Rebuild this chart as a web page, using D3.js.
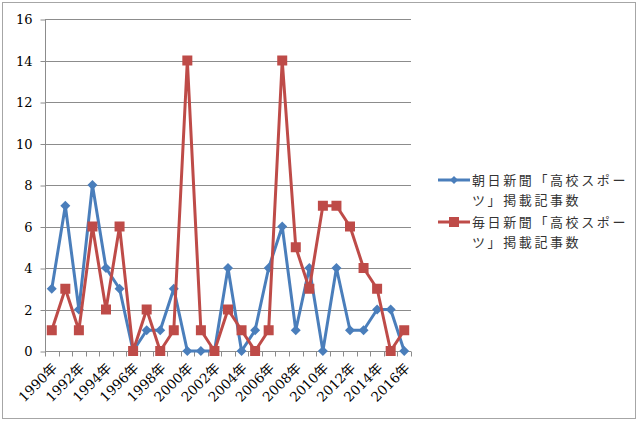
<!DOCTYPE html>
<html>
<head>
<meta charset="utf-8">
<script src="https://cdn.jsdelivr.net/npm/d3@7"></script>
<style>
  body { margin: 0; background: #fff; }
  svg { display: block; }
</style>
</head>
<body>
<div id="chart"></div>
<script>
// Years on the category axis
const years = d3.range(1990, 2017).map(y => y + "年");
// 朝日新聞 counts
const asahiValues = [3, 7, 2, 8, 4, 3, 0, 1, 1, 3, 0, 0, 0, 4, 0, 1, 4, 6, 1, 4, 0, 4, 1, 1, 2, 2, 0];
// 毎日新聞 counts
const mainichiValues = [1, 3, 1, 6, 2, 6, 0, 2, 0, 1, 14, 1, 0, 2, 1, 0, 1, 14, 5, 3, 7, 7, 6, 4, 3, 0, 1];
const yTicks = [0, 2, 4, 6, 8, 10, 12, 14, 16];
const seriesNames = ["朝日新聞「高校スポーツ」掲載記事数", "毎日新聞「高校スポーツ」掲載記事数"];

const W = 638, H = 421;
const plot = { left: 45, right: 411, top: 19, bottom: 351 };
const font = "'DejaVu Serif', 'Noto Sans CJK JP', serif";
const cjkFont = "'Noto Sans CJK JP', sans-serif";

const svg = d3.select("#chart").append("svg")
  .attr("width", W).attr("height", H);

// outer frame
svg.append("rect")
  .attr("x", 2.5).attr("y", 2.5)
  .attr("width", W - 5).attr("height", H - 5)
  .attr("fill", "#fff").attr("stroke", "#a6a6a6").attr("stroke-width", 1);

const x = d3.scaleBand().domain(years).range([plot.left, plot.right]);
const y = d3.scaleLinear().domain([0, 16]).range([plot.bottom, plot.top]);

// gridlines
svg.append("g").selectAll("line").data(yTicks.filter(d => d > 0)).join("line")
  .attr("x1", plot.left).attr("x2", plot.right)
  .attr("y1", d => Math.round(y(d)) + 0.5).attr("y2", d => Math.round(y(d)) + 0.5)
  .attr("stroke", "#8c8c8c").attr("stroke-width", 1);

// y axis
const yAxis = svg.append("g")
  .attr("transform", `translate(${plot.left + 0.5},0.5)`)
  .call(d3.axisLeft(y).tickValues(yTicks).tickSize(5).tickPadding(8));
yAxis.select(".domain").attr("stroke", "#8c8c8c").attr("d", `M0,${y(16)}V${y(0)}`);
yAxis.selectAll(".tick line").attr("stroke", "#8c8c8c");
yAxis.selectAll("text").style("font-family", font).style("font-size", "13px").attr("fill", "#000");

// x axis: ticks between categories, labels every other year
const xAxisG = svg.append("g").attr("transform", `translate(0,${Math.round(plot.bottom) + 0.5})`);
xAxisG.append("line").attr("x1", plot.left).attr("x2", plot.right).attr("stroke", "#8c8c8c");
const boundaries = years.map(d => x(d)).concat([x.range()[1]]);
xAxisG.selectAll(".xt").data(boundaries).join("line")
  .attr("x1", d => Math.round(d) + 0.5).attr("x2", d => Math.round(d) + 0.5)
  .attr("y1", 0).attr("y2", 5).attr("stroke", "#8c8c8c");
xAxisG.selectAll("text").data(years.filter((d, i) => i % 2 === 0)).join("text")
  .attr("transform", d => `translate(${x(d) + x.bandwidth() / 2 + 3},${14}) rotate(-45)`)
  .attr("text-anchor", "end")
  .attr("dy", "0.35em")
  .style("font-family", font).style("font-size", "13.5px")
  .text(d => d);

const series = [
  { name: seriesNames[0], values: asahiValues, color: "#4a7ebb", marker: "diamond" },
  { name: seriesNames[1], values: mainichiValues, color: "#be4b48", marker: "square" }
];

const line = d3.line()
  .x((d, i) => x(years[i]) + x.bandwidth() / 2)
  .y(d => y(d));

function drawMarker(g, type, color, size) {
  const r = size || 5;
  if (type === "diamond") {
    g.append("path").attr("d", `M0,${-r}L${r},0L0,${r}L${-r},0Z`).attr("fill", color);
  } else {
    g.append("rect").attr("x", -r).attr("y", -r).attr("width", 2 * r).attr("height", 2 * r).attr("fill", color);
  }
}

series.forEach(s => {
  svg.append("path").datum(s.values)
    .attr("d", line)
    .attr("fill", "none").attr("stroke", s.color)
    .attr("stroke-width", 3).attr("stroke-linejoin", "round");
  svg.append("g").selectAll("g").data(s.values).join("g")
    .attr("transform", (d, i) => `translate(${x(years[i]) + x.bandwidth() / 2},${y(d)})`)
    .each(function() { drawMarker(d3.select(this), s.marker, s.color); });
});

// legend
const legend = svg.append("g");
series.forEach((s, i) => {
  const ly = 180 + i * 42;
  const g = legend.append("g").attr("transform", `translate(438,${ly})`);
  g.append("line").attr("x1", 0).attr("x2", 32).attr("stroke", s.color).attr("stroke-width", 3);
  const mg = g.append("g").attr("transform", "translate(16,0)");
  drawMarker(mg, s.marker, s.color, s.marker === "diamond" ? 4 : 5);
  const t = g.append("text")
    .style("font-family", cjkFont).style("font-size", "13px")
    .style("letter-spacing", "2.6px").attr("fill", "#333");
  t.append("tspan").attr("x", 34).attr("dy", "0.35em").text(s.name.slice(0, 10));
  t.append("tspan").attr("x", 34).attr("dy", "1.6em").text(s.name.slice(10));
});
</script>
</body>
</html>
